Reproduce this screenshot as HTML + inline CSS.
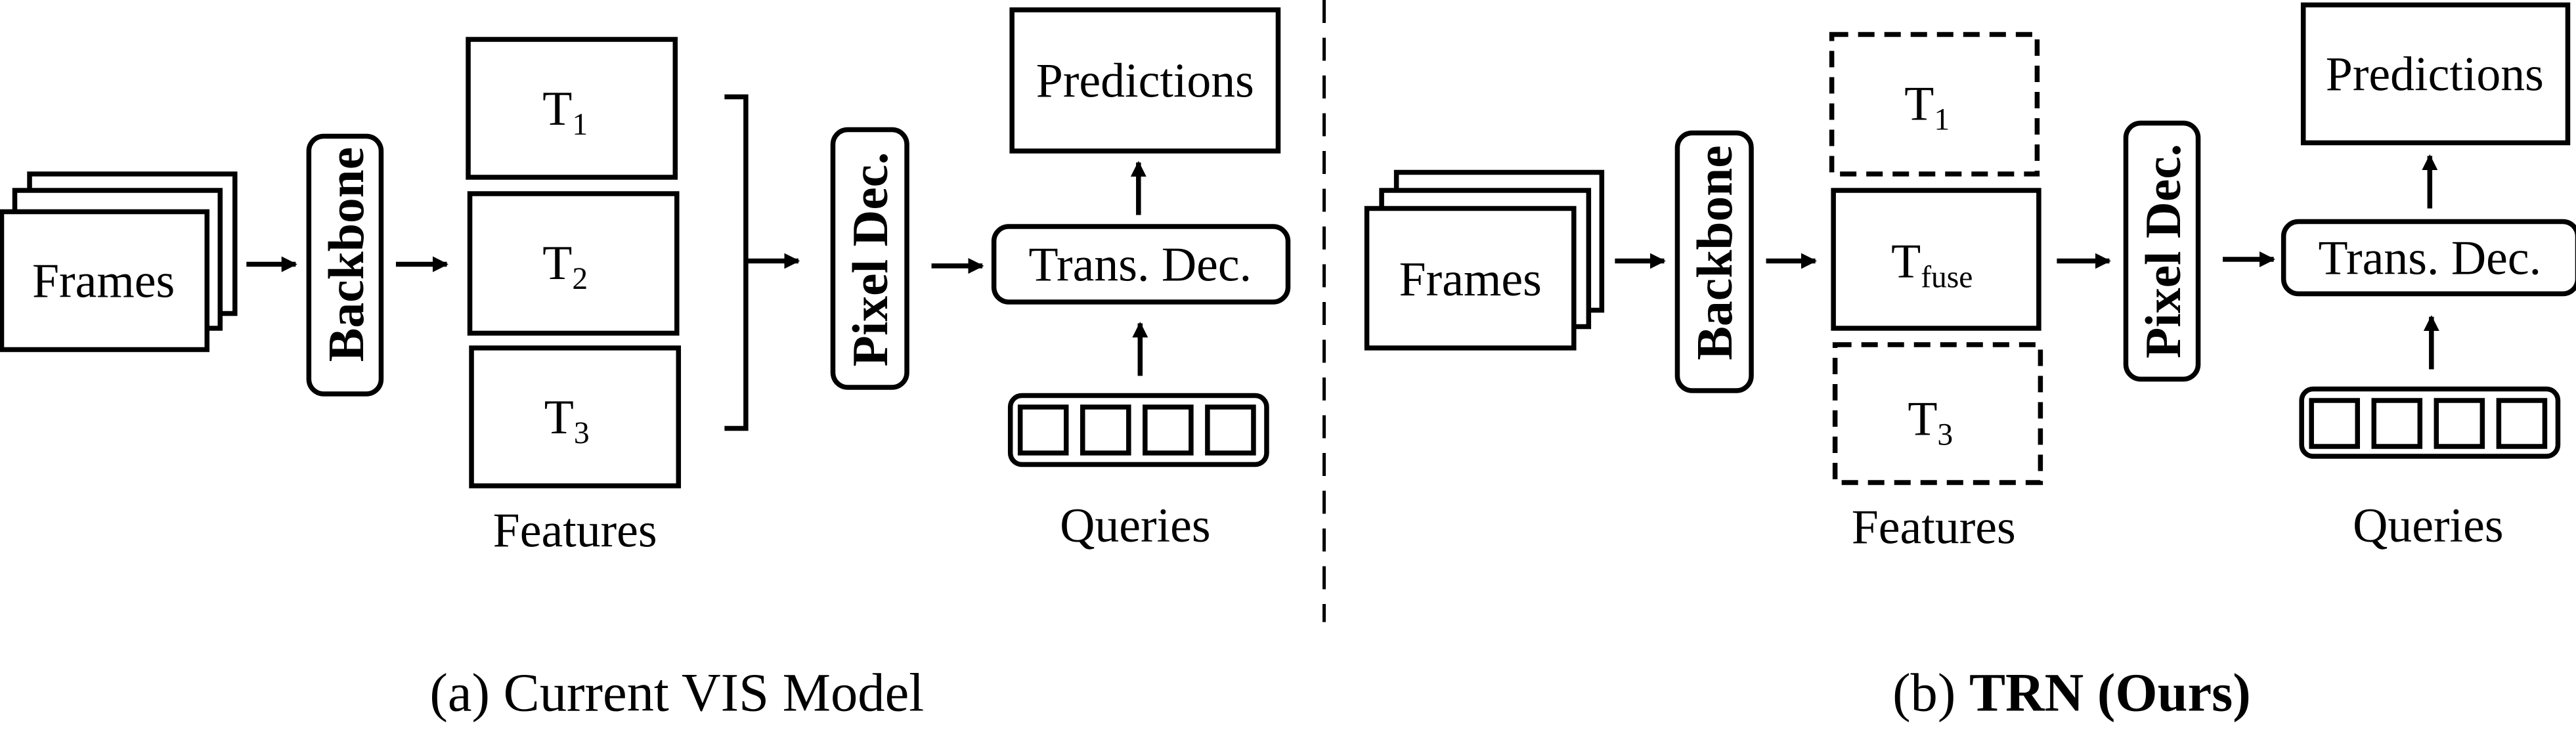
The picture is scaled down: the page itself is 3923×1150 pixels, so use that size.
<!DOCTYPE html>
<html><head><meta charset="utf-8"><style>
html,body{margin:0;padding:0;background:#fff;}
svg{display:block;}
text{font-family:"Liberation Serif",serif;fill:#000;}
</style></head><body>
<svg width="3923" height="1150" viewBox="0 0 1568 460" preserveAspectRatio="none" xmlns="http://www.w3.org/2000/svg">
<defs>
<marker id="ah" viewBox="0 0 10 10" refX="9" refY="5" markerWidth="3.2" markerHeight="3.2" orient="auto"><path d="M0,0 L10,5 L0,10 z" fill="#000"/></marker>
</defs>
<g fill="#fff" stroke="#000" stroke-width="3">
<rect x="18" y="106" width="125" height="85"/>
<rect x="9" y="116" width="125" height="84"/>
<rect x="1" y="129" width="125" height="84"/>
<rect x="188" y="83" width="44" height="157" rx="9"/>
<rect x="285" y="24" width="126" height="84"/>
<rect x="286" y="118" width="126" height="85"/>
<rect x="287" y="212" width="126" height="84"/>
<path d="M441,59 H454 V261 H441" fill="none"/>
<rect x="507" y="79" width="45" height="157" rx="9"/>
<rect x="605" y="138" width="179" height="46" rx="9"/>
<rect x="616" y="6" width="162" height="86"/>
<rect x="615" y="241" width="156" height="42" rx="7"/>
<rect x="621" y="248" width="28" height="28"/>
<rect x="659" y="248" width="28" height="28"/>
<rect x="697" y="248" width="28" height="28"/>
<rect x="735" y="248" width="28" height="28"/>
<rect x="850" y="105" width="125" height="84"/>
<rect x="841" y="116" width="126" height="83"/>
<rect x="832" y="127" width="126" height="85"/>
<rect x="1021" y="81" width="45" height="157" rx="9"/>
<rect x="1115" y="21" width="125" height="85" stroke-dasharray="10,6"/>
<rect x="1116" y="116" width="125" height="84"/>
<rect x="1117" y="210" width="125" height="84" stroke-dasharray="10,6"/>
<rect x="1294" y="75" width="44" height="156" rx="9"/>
<rect x="1390" y="135" width="179" height="44" rx="9"/>
<rect x="1402" y="3" width="161" height="84"/>
<rect x="1401" y="237" width="156" height="41" rx="7"/>
<rect x="1407" y="244" width="28" height="28"/>
<rect x="1445" y="244" width="28" height="28"/>
<rect x="1483" y="244" width="28" height="28"/>
<rect x="1521" y="244" width="28" height="28"/>
</g>
<g stroke="#000" stroke-width="3" marker-end="url(#ah)">
<line x1="150" y1="161" x2="180" y2="161"/>
<line x1="241" y1="161" x2="272" y2="161"/>
<line x1="454" y1="159" x2="486" y2="159"/>
<line x1="567" y1="162" x2="598" y2="162"/>
<line x1="693" y1="131" x2="693" y2="99"/>
<line x1="694" y1="229" x2="694" y2="197"/>
<line x1="983" y1="159" x2="1013" y2="159"/>
<line x1="1075" y1="159" x2="1105" y2="159"/>
<line x1="1252" y1="159" x2="1284" y2="159"/>
<line x1="1353" y1="158" x2="1384" y2="158"/>
<line x1="1479" y1="127" x2="1479" y2="95"/>
<line x1="1480" y1="225" x2="1480" y2="193"/>
</g>
<line x1="806" y1="0" x2="806" y2="379" stroke="#000" stroke-width="2" stroke-dasharray="14,9"/>
<g font-size="29.5" text-anchor="middle">
<text x="63" y="181">Frames</text>
<text x="344" y="76">T<tspan font-size="19" dy="6">1</tspan></text>
<text x="344" y="170">T<tspan font-size="19" dy="6">2</tspan></text>
<text x="345" y="264">T<tspan font-size="19" dy="6">3</tspan></text>
<text x="697" y="59">Predictions</text>
<text x="694" y="171">Trans. Dec.</text>
<text x="350" y="333">Features</text>
<text x="691" y="330">Queries</text>
<text x="412" y="433" font-size="33">(a) Current VIS Model</text>
<text x="895" y="180">Frames</text>
<text x="1173" y="73">T<tspan font-size="19" dy="6">1</tspan></text>
<text x="1176" y="169">T<tspan font-size="19" dy="6">fuse</tspan></text>
<text x="1175" y="265">T<tspan font-size="19" dy="6">3</tspan></text>
<text x="1482" y="55">Predictions</text>
<text x="1479" y="167">Trans. Dec.</text>
<text x="1177" y="331">Features</text>
<text x="1478" y="330">Queries</text>
<text x="1261" y="433" font-size="33">(b) <tspan font-weight="bold">TRN (Ours)</tspan></text>
<text transform="translate(221,155) rotate(-90)" font-weight="bold" font-size="31">Backbone</text>
<text transform="translate(540,158) rotate(-90)" font-weight="bold" font-size="31">Pixel Dec.</text>
<text transform="translate(1054,154) rotate(-90)" font-weight="bold" font-size="31">Backbone</text>
<text transform="translate(1327,153) rotate(-90)" font-weight="bold" font-size="31">Pixel Dec.</text>
</g>
</svg>
</body></html>
